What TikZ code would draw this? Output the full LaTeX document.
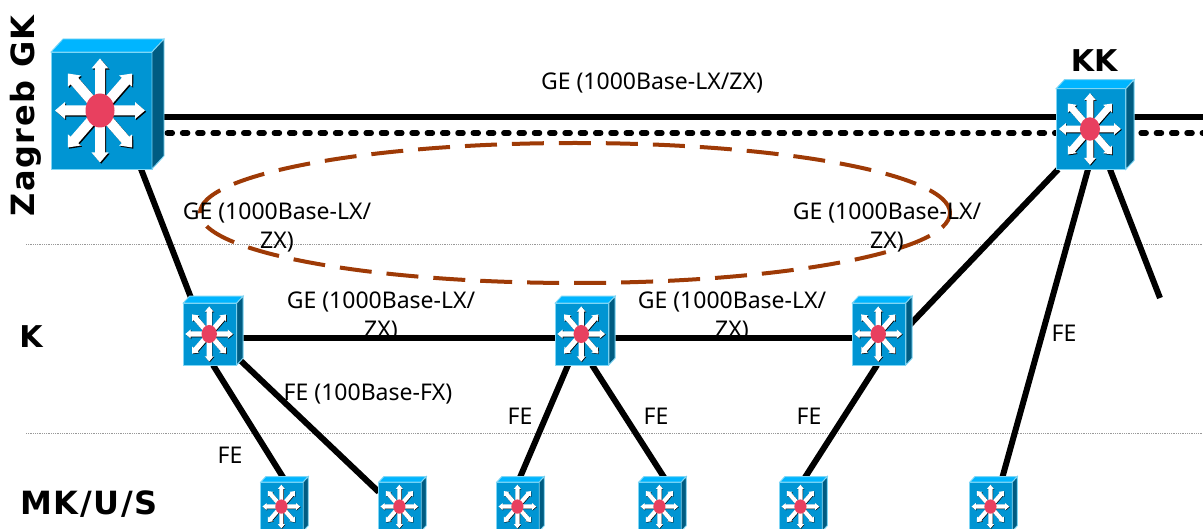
\documentclass[tikz,border=0pt]{standalone}
\usepackage{fontspec}
\setmainfont{Noto Sans}
\newfontfamily\boldface{DejaVu Sans Bold}
\newfontfamily\spacedface[LetterSpace=5]{DejaVu Sans Bold}
\usetikzlibrary{positioning,backgrounds,shapes.geometric}

\definecolor{switchfront}{HTML}{0095D3}
\definecolor{switchtop}{HTML}{00B5FF}
\definecolor{switchside}{HTML}{005C82}
\definecolor{switchedge}{HTML}{7FD6F5}
\definecolor{switchhub}{HTML}{E8405F}
\definecolor{ringbrown}{HTML}{9E3A06}

\tikzset{
  switch/.style={rectangle, inner sep=0pt, outer sep=0pt,
    minimum width=#1*101pt, minimum height=#1*117pt,
    append after command={\pgfextra{
      \path[fill=switchfront, draw=switchedge, line width=.9pt] (\tikzlastnode.north west)
        rectangle (\tikzlastnode.south east);
      \path[fill=switchtop, draw=switchedge, line width=.9pt] (\tikzlastnode.north west)
        -- ++({#1*12},{-#1*13}) -- ++({#1*101},0) -- (\tikzlastnode.north east) -- cycle;
      \path[fill=switchside, draw=switchedge, line width=.9pt] (\tikzlastnode.north east)
        -- ++({#1*12},{-#1*13}) -- ++(0,{#1*117}) -- (\tikzlastnode.south east) -- cycle;
      \begin{scope}[shift={(\tikzlastnode.center)}, scale=#1, xshift=-1.5pt]
        \foreach \col/\off in {black/1.2, white/0} {
          \foreach \ang/\len in {0/45, 49/49, 90/52, 131/49, 180/45, 229/49, 270/52, 311/49} {
            \begin{scope}[shift={(\off,\off)}]
              \fill[\col, rotate=\ang] (0,-5) -- ({\len-10},-5) -- ({\len-10},-8.5) -- (\len,0)
                -- ({\len-10},8.5) -- ({\len-10},5) -- (0,5) -- cycle;
            \end{scope}
          }
        }
        \fill[switchhub] (0,0) ellipse (14.5 and 17);
      \end{scope}
    }}
  },
  link/.style={draw=black, line width=6pt},
  dotlink/.style={draw=black, line width=5.5pt, line cap=round, dash pattern=on 5pt off 10.3pt},
  tier/.style={draw=gray!80, line width=.8pt, densely dotted},
  speed/.style={inner sep=0pt, align=center, font=\fontsize{23}{29}\selectfont},
  tierlabel/.style={inner sep=0pt, font=\boldface\fontsize{30}{32}\selectfont},
  widelabel/.style={inner sep=0pt, font=\spacedface\fontsize{32}{34}\selectfont},
}

\begin{document}
\begin{tikzpicture}[x=1pt,y=-1pt]

    \useasboundingbox (0,0) rectangle (1203,529);

    % Define nodes
    \node[switch=1]                                      (zagreb) at (101.5,110.5) {};
    \node[switch=.69, right=904.15pt of zagreb, yshift=-18.5pt] (kk) {};
    \node[switch=.53, below=134pt of zagreb, xshift=108.5pt]    (k1) {};
    \node[switch=.53, right=318.5pt of k1]               (k2) {};
    \node[switch=.53, right=243.5pt of k2]               (k3) {};
    \node[switch=.42, below=117pt of k1, xshift=72pt]    (m1) {};
    \node[switch=.42, below=117pt of k1, xshift=190pt]   (m2) {};
    \node[switch=.42, below=117pt of k2, xshift=-64pt]   (m3) {};
    \node[switch=.42, below=117pt of k2, xshift=78pt]    (m4) {};
    \node[switch=.42, below=117pt of k3, xshift=-78pt]   (m5) {};
    \node[switch=.42, right=147.6pt of m5]               (m6) {};

    \coordinate (topout)  at (1203,116.7);
    \coordinate (dotout)  at (1203,133);
    \coordinate (kkout)   at (1160,298);
    \coordinate (tierAa)  at (26,244);
    \coordinate (tierAb)  at (1203,244);
    \coordinate (tierBa)  at (26,433);
    \coordinate (tierBb)  at (1203,433);

    \node[ellipse, draw=ringbrown, line width=4pt, dash pattern=on 32pt off 15pt,
          minimum width=750pt, minimum height=140pt, inner sep=0pt] (ring) at (575,213) {};

    % Labels
    \node[widelabel, rotate=90] (lzagreb) at (26,116) {Zagreb GK};
    \node[tierlabel]            (lkk)     at (1094,61) {KK};
    \node[tierlabel]            (lk)      at (31,337) {K};
    \node[widelabel]            (lmk)     at (89,504) {MK/U/S};

    \node[speed] (top)   at (652,83)    {GE (1000Base-LX/ZX)};
    \node[speed] (ringl) at (277,227.5) {GE (1000Base-LX/\\ZX)};
    \node[speed] (ringr) at (887,227.5) {GE (1000Base-LX/\\ZX)};
    \node[speed] (kl)    at (381,316.5) {GE (1000Base-LX/\\ZX)};
    \node[speed] (kr)    at (732,316.5) {GE (1000Base-LX/\\ZX)};
    \node[speed] (fx)    at (368,394)   {FE (100Base-FX)};
    \node[speed] (fea)   at (230,455)   {FE};
    \node[speed] (feb)   at (520,416)   {FE};
    \node[speed] (fec)   at (656,416)   {FE};
    \node[speed] (fed)   at (809,416)   {FE};
    \node[speed] (fee)   at (1064,333)  {FE};

    % Connect the nodes
    \begin{scope}[on background layer]
      \draw[tier] (tierAa) -- (tierAb);
      \draw[tier] (tierBa) -- (tierBb);
      \draw[link] ([yshift=-6.2pt]zagreb.east) -- ([yshift=12.3pt]kk.west);
      \draw[link] ([yshift=12.3pt]kk.east) -- (topout);
      \draw[dotlink] ([yshift=-22.5pt]zagreb.east) -- ([yshift=-4pt]kk.west);
      \draw[dotlink] ([yshift=-4pt]kk.east) -- (dotout);
      \draw[link] ([xshift=-11pt]zagreb.south east) -- ([xshift=-17pt]k1.north);
      \draw[link] ([yshift=-4pt]k1.east) -- ([yshift=-4pt]k2.west);
      \draw[link] ([yshift=-4pt]k2.east) -- ([yshift=-4pt]k3.west);
      \draw[link] ([xshift=3pt]k1.south) -- ([xshift=4pt]m1.north);
      \draw[link] ([yshift=8pt]k1.south east) -- ([yshift=-10pt]m2.north west);
      \draw[link] ([xshift=-14pt]k2.south) -- (m3.north);
      \draw[link] ([xshift=10pt]k2.south) -- ([xshift=7pt]m4.north);
      \draw[link] ([xshift=-2pt]k3.south) -- ([xshift=1pt]m5.north);
      \draw[link] ([xshift=2pt]kk.south west) -- ([yshift=5pt]k3.east);
      \draw[link] ([xshift=-3pt]kk.south) -- ([xshift=10pt]m6.north);
      \draw[link] ([xshift=19pt]kk.south) -- (kkout);
    \end{scope}

\end{tikzpicture}
\end{document}
